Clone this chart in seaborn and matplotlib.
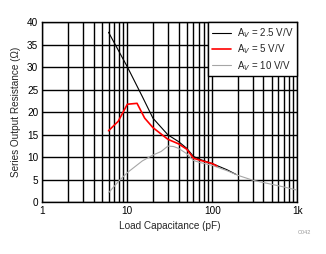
import numpy as np
import pandas as pd
import seaborn as sns
import matplotlib
matplotlib.use("Agg")
import matplotlib.pyplot as plt
from matplotlib.ticker import FixedLocator, FixedFormatter, NullFormatter

# Data
cap_25 = [6, 10, 15, 20, 30, 40, 50, 60, 70, 100, 150, 190]
res_25 = [37.8, 30.1, 23.5, 18.7, 15.0, 13.5, 12.0, 10.2, 9.6, 8.6, 7.2, 6.2]

cap_5 = [6, 7.8, 10, 13, 16, 20, 30, 40, 50, 60, 70, 100, 113]
res_5 = [15.9, 18.0, 21.8, 22.0, 18.7, 16.6, 14.0, 13.0, 11.8, 9.8, 9.4, 8.6, 8.1]

cap_10 = [6, 8, 10, 15, 20, 25, 30, 35, 40, 50, 60, 70, 100, 150, 200, 300, 500, 700, 1000]
res_10 = [2.1, 4.8, 6.6, 9.2, 10.5, 11.3, 12.5, 12.4, 12.0, 10.8, 9.3, 8.9, 8.2, 7.0, 6.0, 4.9, 4.0, 3.4, 2.7]

labels = [r"A$_V$ = 2.5 V/V", r"A$_V$ = 5 V/V", r"A$_V$ = 10 V/V"]
colors = ["#000000", "#ff0000", "#a6a6a6"]

x_ticks = [1, 10, 100, 1000]
x_ticklabels = ["1", "10", "100", "1k"]
y_ticks = [0, 5, 10, 15, 20, 25, 30, 35, 40]

sns.set_style("white")
plt.rcParams["font.family"] = ["Liberation Sans", "DejaVu Sans"]

fig = plt.figure(figsize=(3.26, 2.54), dpi=100)
ax = fig.add_axes([0.130, 0.2035, 0.782, 0.7085])

sns.lineplot(x=cap_25, y=res_25, ax=ax, color=colors[0], lw=0.8, label=labels[0], zorder=3)
sns.lineplot(x=cap_5, y=res_5, ax=ax, color=colors[1], lw=1.2, label=labels[1], zorder=5)
sns.lineplot(x=cap_10, y=res_10, ax=ax, color=colors[2], lw=0.8, label=labels[2], zorder=4)

ax.set_xscale("log")
ax.set_xlim(1, 1000)
ax.set_ylim(0, 40)
ax.xaxis.set_major_locator(FixedLocator(x_ticks))
ax.xaxis.set_major_formatter(FixedFormatter(x_ticklabels))
ax.xaxis.set_minor_formatter(NullFormatter())
ax.set_yticks(y_ticks)

ax.grid(True, which="both", axis="x", color="black", lw=1.0)
ax.grid(True, which="major", axis="y", color="black", lw=1.0)
ax.set_axisbelow(True)
for s in ax.spines.values():
    s.set_color("black")
    s.set_linewidth(1.0)
ax.tick_params(which="both", length=0, labelsize=7.2, pad=3, colors="black")

ax.set_xlabel("Load Capacitance (pF)", fontsize=7.2, labelpad=3)
ax.set_ylabel("Series Output Resistance (\u03a9)", fontsize=7.2, labelpad=4)

leg = ax.legend(loc="upper right", fontsize=7, frameon=True, fancybox=False,
                borderaxespad=0, handlelength=2.0, handletextpad=0.6,
                borderpad=0.4, labelspacing=0.25)
leg.get_frame().set_edgecolor("black")
leg.get_frame().set_linewidth(1.0)
leg.get_frame().set_alpha(1)

fig.text(0.955, 0.085, "C042", fontsize=4, color="#999999", ha="right", va="center")

fig.savefig("out.png", dpi=100)
